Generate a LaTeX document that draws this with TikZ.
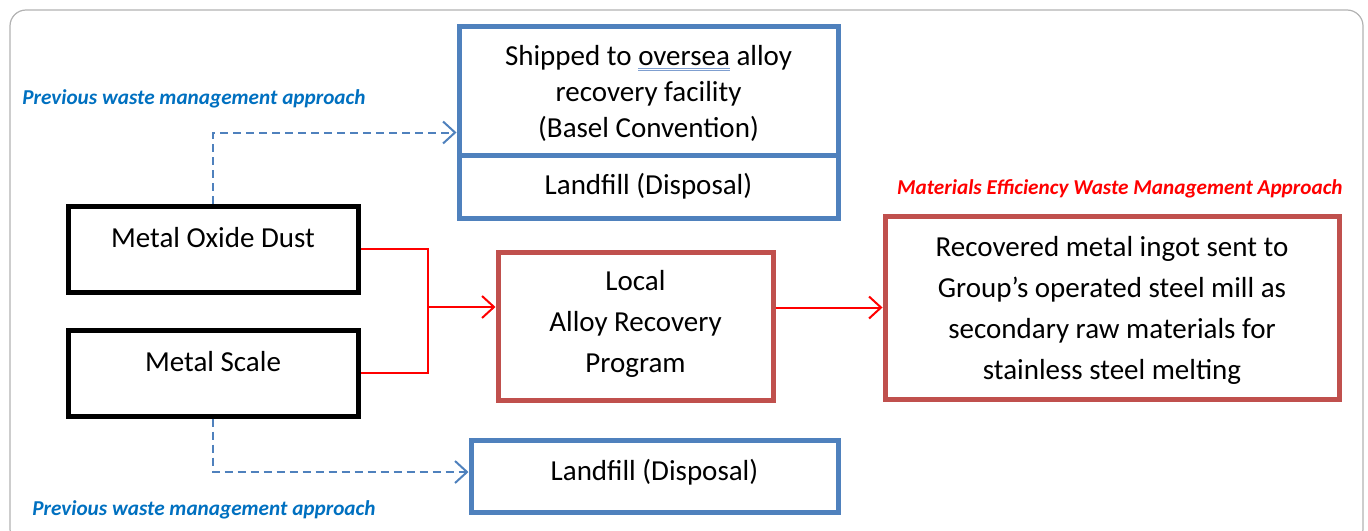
\documentclass[tikz,border=0pt]{standalone}
\usepackage{fontspec}
\setmainfont{Carlito}
\usetikzlibrary{positioning,arrows.meta}
\definecolor{boxblue}{HTML}{4F81BD}
\definecolor{boxred}{HTML}{C0504D}
\definecolor{noteblue}{HTML}{0070C0}
\definecolor{ulblue}{HTML}{7F9FD0}
\newcommand{\spellul}[1]{\setbox0\hbox{#1}\rlap{\color{ulblue}\rule[-1.6pt]{\wd0}{0.35pt}}\rlap{\color{ulblue}\rule[-2.6pt]{\wd0}{0.35pt}}\box0\relax}
\tikzset{
  blkbox/.style={draw=black,line width=2.5pt,minimum width=145pt,minimum height=43pt,inner sep=0pt},
  bluebox/.style={draw=boxblue,line width=2.5pt,inner sep=0pt},
  redbox/.style={draw=boxred,line width=2.5pt,inner sep=0pt},
  txt/.style={font=\fontsize{14.5}{18}\selectfont,align=center,inner sep=0pt},
  note/.style={font=\fontsize{10.6}{12}\selectfont\bfseries\itshape,inner sep=0pt},
  flow/.style={draw=red,line width=1pt,-{Straight Barb[length=6pt,width=11pt]}},
  prev/.style={draw=boxblue,line width=1pt,dash pattern=on 4pt off 2.5pt,-{Straight Barb[length=6pt,width=11pt]}}
}
\begin{document}
\begin{tikzpicture}[x=0.5pt,y=-0.5pt]
\useasboundingbox (0,0) rectangle (1368,530);
\draw[black!30,line width=0.6pt,rounded corners=8pt] (10,10) rectangle (1363,545);
% left hand sources
\node(WB1)[blkbox] at (213,249){};
\node(WB2)[blkbox] at (213,373){};
\node[txt] at (213,238){Metal Oxide Dust};
\node[txt] at (213,362){Metal Scale};
% previous approach (blue)
\node(WB3)[bluebox,minimum width=189.5pt,minimum height=64.5pt] at (648.5,90.5){};
\node(WB4)[bluebox,minimum width=189.5pt,minimum height=31.5pt,below=-2.5pt of WB3]{};
\node[txt] at (648.5,93.5){Shipped to \spellul{oversea} alloy\\recovery facility\\(Basel Convention)};
\node[txt] at (648.5,186){Landfill (Disposal)};
\node(WB7)[bluebox,minimum width=183.5pt,minimum height=36pt] at (654.5,476){};
\node[txt] at (654.5,472){Landfill (Disposal)};
% materials efficiency approach (red)
\node(WB5)[redbox,minimum width=137.5pt,minimum height=74pt] at (635.5,326){};
\node[txt,font=\fontsize{14.5}{20.5}\selectfont] at (635.5,324){Local\\Alloy Recovery\\Program};
\node(WB6)[redbox,minimum width=227pt,minimum height=91.5pt] at (1112,307.5){};
\node[txt,font=\fontsize{14.5}{20.5}\selectfont] at (1112,310.5){Recovered metal ingot sent to\\Group’s operated steel mill as\\secondary raw materials for\\stainless steel melting};
% notes
\node[note,text=noteblue,anchor=west] at (22,99){Previous waste management approach};
\node[note,text=noteblue,anchor=west] at (32,510){Previous waste management approach};
\node[note,text=red,anchor=east] at (1343,189){Materials Efficiency Waste Management Approach};
% connectors
\coordinate(J1) at (428,307);
\draw[red,line width=1pt] (WB1.east) -| (J1) |- (WB2.east);
\draw[flow] (J1) -- (J1 -| WB5.west);
\draw[flow] (WB5.east |- WB6.west) -- (WB6.west);
\draw[prev] (WB1.north) |- ([yshift=12.5pt]WB3.south west);
\draw[prev] (WB2.south) |- ([yshift=2pt]WB7.west);
\end{tikzpicture}
\end{document}
